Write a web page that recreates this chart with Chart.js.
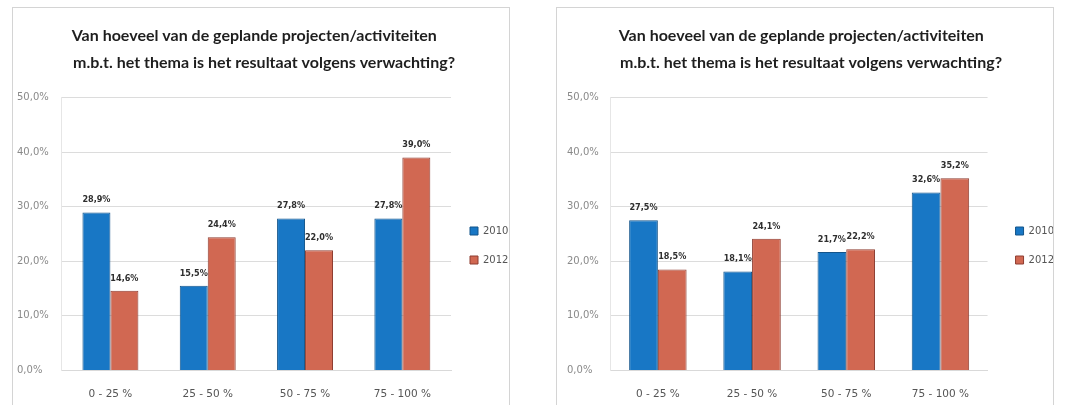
<!DOCTYPE html>
<html lang="nl">
<head>
<meta charset="UTF-8">
<script src="https://cdn.jsdelivr.net/npm/chart.js@4.4.1/dist/chart.umd.min.js"></script>
<title>Resultaat volgens verwachting</title>
<style>
  body { margin: 0; background: #fff; width: 1082px; height: 405px; overflow: hidden; position: relative; }
  .box { position: absolute; top: 7px; width: 498px; height: 420px; border: 1px solid #d4d4d4; box-sizing: border-box; }
  .box canvas { position: absolute; left: 0; top: 0; }
</style>
</head>
<body>
<div class="box" style="left:12px"><canvas id="links" width="496" height="407"></canvas></div>
<div class="box" style="left:556px"><canvas id="rechts" width="496" height="407"></canvas></div>
<script>
// categorieen en waarden
const categorieen = ['0 - 25 %', '25 - 50 %', '50 - 75 %', '75 - 100 %'];
const jaren = ['2010', '2012'];
const links2010 = [28.9, 15.5, 27.8, 27.8];
const links2012 = [14.6, 24.4, 22.0, 39.0];
const rechts2010 = [27.5, 18.1, 21.7, 32.6];
const rechts2012 = [18.5, 24.1, 22.2, 35.2];
const yTicks = [0, 10, 20, 30, 40, 50];

// eerste regel iets aanvullen zodat beide regels links gelijk beginnen
const titel = ['Van hoeveel van de geplande projecten/activiteiten     ',
               'm.b.t. het thema is het resultaat volgens verwachting?'];

function pct(v) { return v.toFixed(1).replace('.', ',') + '%'; }

// waarden boven de staven zetten
const waardeLabels = {
  id: 'waardeLabels',
  afterDatasetsDraw(chart) {
    const ctx = chart.ctx;
    ctx.save();
    ctx.font = 'bold 9px "DejaVu Sans Condensed", sans-serif';
    ctx.fillStyle = '#2e2e2e';
    ctx.textAlign = 'center';
    ctx.textBaseline = 'bottom';
    chart.data.datasets.forEach((ds, i) => {
      chart.getDatasetMeta(i).data.forEach((bar, j) => {
        ctx.fillText(pct(ds.data[j]), bar.x, bar.y - 8);
      });
    });
    ctx.restore();
  }
};

// legenda iets opschuiven na de layout
const legendaSchuif = {
  id: 'legendaSchuif',
  afterLayout(chart, args, opts) {
    const lg = chart.legend;
    if (!lg) return;
    lg.left += opts.dx || 0; lg.right += opts.dx || 0;
    lg.top += opts.dy || 0; lg.bottom += opts.dy || 0;
  }
};

function maakGrafiek(id, d2010, d2012, cfg) {
  new Chart(document.getElementById(id), {
    type: 'bar',
    data: {
      labels: categorieen,
      datasets: [
        { label: jaren[0], data: d2010, backgroundColor: '#1877c5', borderColor: '#13548a', borderWidth: 1 },
        { label: jaren[1], data: d2012, backgroundColor: '#d16852', borderColor: '#8e3d31', borderWidth: 1 }
      ]
    },
    options: {
      responsive: false,
      animation: false,
      layout: { padding: { left: cfg.links, right: cfg.rechts, top: 14, bottom: 4 } },
      datasets: { bar: { categoryPercentage: cfg.cat, barPercentage: 1 } },
      plugins: {
        title: {
          display: true, text: titel, color: '#1e1e1e',
          font: { family: 'Lato', weight: 'bold', size: 16, lineHeight: 1.7 }, padding: { top: 0, bottom: 21 }
        },
        legend: {
          position: 'right',
          maxWidth: cfg.legBreed,
          labels: { boxWidth: 8, boxHeight: 8, padding: 19, color: '#555',
                    font: { family: '"DejaVu Sans", sans-serif', size: 10 } }
        },
        legendaSchuif: { dx: cfg.dx, dy: 29 },
        tooltip: { enabled: false }
      },
      scales: {
        x: {
          grid: { display: false },
          border: { color: '#d9d9d9' },
          ticks: { color: '#555', font: { family: '"DejaVu Sans", sans-serif', size: 10.5 }, padding: 10 }
        },
        y: {
          min: 0, max: 50,
          afterBuildTicks: ax => { ax.ticks = yTicks.map(v => ({ value: v })); },
          grid: { color: '#dcdcdc', drawTicks: false },
          border: { color: '#e6e6e6' },
          ticks: { color: '#8a8a8a', padding: cfg.tickPad, crossAlign: 'far', callback: v => pct(v),
                   font: { family: '"DejaVu Sans", sans-serif', size: 10 } }
        }
      }
    },
    plugins: [waardeLabels, legendaSchuif]
  });
}

maakGrafiek('links', links2010, links2012,
  { links: 4, rechts: -2, tickPad: 6.5, cat: 0.575, legBreed: 60, dx: 0 });
maakGrafiek('rechts', rechts2010, rechts2012,
  { links: 10, rechts: -2, tickPad: 6, cat: 0.61, legBreed: 68, dx: 9 });
</script>
</body>
</html>
